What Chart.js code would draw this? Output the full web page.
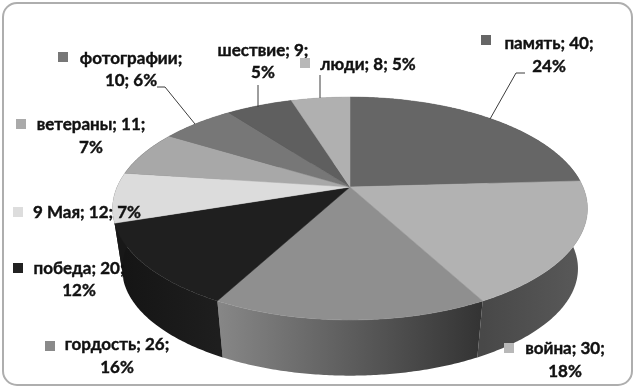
<!DOCTYPE html>
<html>
<head>
<meta charset="utf-8">
<script src="https://cdn.jsdelivr.net/npm/chart.js@4"></script>
<style>
    html, body { margin: 0; padding: 0; background: #fff; }
    #frame { position: absolute; left: 2px; top: 2px; width: 627px; height: 380px; border: 2px solid #aeaeae; border-radius: 15px; }
    #chartCanvas { position: absolute; left: 0; top: 0; }
</style>
</head>
<body>
<div id="frame"></div>
<canvas id="chartCanvas" width="633" height="387"></canvas>
<script>
const categories = ["память", "война", "гордость", "победа", "9 Мая", "ветераны", "фотографии", "шествие", "люди"];
const values = [40, 30, 26, 20, 12, 11, 10, 9, 8];
const percents = [24, 18, 16, 12, 7, 7, 6, 5, 5];

const topColors = ["#666666", "#b2b2b2", "#8f8f8f", "#1f1f1f", "#dcdcdc", "#a8a8a8", "#777777", "#5f5f5f", "#b0b0b0"];
const sideColors = [
    ["#444444", "#444444"], ["#484848", "#5a5a5a"], ["#878787", "#333333"], ["#141414", "#1e1e1e"], ["#181818", "#181818"],
    ["#181818", "#181818"], ["#555555", "#555555"], ["#444444", "#444444"], ["#777777", "#777777"]
];
const markerColors = ["#666666", "#b8b8b8", "#8a8a8a", "#222222", "#dddddd", "#aaaaaa", "#777777", null, "#b8b8b8"];

// label layout: marker x,y then one entry per text line (center x, center y, text kind)
const labelLayout = [
    { marker: [481, 35], lines: [[549, 44, 0], [549, 67, 1]] },
    { marker: [504, 343], lines: [[565, 349, 0], [565, 372, 1]] },
    { marker: [45, 341], lines: [[117, 345, 0], [117, 368, 1]] },
    { marker: [13, 263], lines: [[79, 269, 0], [79, 291, 1]] },
    { marker: [13, 207], lines: [[87, 213, 2]] },
    { marker: [16, 119], lines: [[91, 125, 0], [91, 148, 1]] },
    { marker: [58, 52], lines: [[131, 59, 4], [131, 81, 3]] },
    { marker: null, lines: [[263, 51, 0], [263, 73, 1]] },
    { marker: [300, 58], lines: [[368, 65, 2]] }
];

const leaderLines = [
    [[490, 119], [516, 73], [525, 73]],
    [[320, 98], [320, 75]],
    [[258, 107], [258, 85]],
    [[195, 124], [165, 87], [157, 87]]
];

// perspective of the disc: apex position, radii and tilt
const apexX = 350, apexY = 187, radiusX = 233, radiusY = 107.3, tilt = 0.193;
const depth = 61, bottomScale = 0.96;

function project(angle, bottom) {
    const u = Math.cos(angle), v = Math.sin(angle);
    const w = 1 - tilt * v;
    const f = bottom ? bottomScale : 1;
    return {
        x: apexX + radiusX * f * u / w,
        y: apexY + (bottom ? depth : 0) + radiusY * f * v / w
    };
}

function rimPoints(start, end, bottom) {
    const steps = Math.max(2, Math.ceil((end - start) / 0.01));
    const pts = [];
    for (let i = 0; i <= steps; i++) {
        pts.push(project(start + (end - start) * i / steps, bottom));
    }
    return pts;
}

const pie3d = {
    id: "pie3d",
    // arcs come from the doughnut controller, they are only projected here
    beforeDatasetsDraw(chart) {
        const ctx = chart.ctx;
        const arcs = chart.getDatasetMeta(0).data;

        arcs.forEach((arc, i) => {
            const upper = rimPoints(arc.startAngle, arc.endAngle, false);
            const lower = rimPoints(arc.startAngle, arc.endAngle, true);
            const xs = upper.map(p => p.x);
            const left = Math.min(...xs), right = Math.max(...xs);
            const grad = ctx.createLinearGradient(left, 0, Math.max(right, left + 1), 0);
            grad.addColorStop(0, sideColors[i][0]);
            grad.addColorStop(1, sideColors[i][1]);
            ctx.beginPath();
            upper.forEach((p, k) => k ? ctx.lineTo(p.x, p.y) : ctx.moveTo(p.x, p.y));
            lower.reverse().forEach(p => ctx.lineTo(p.x, p.y));
            ctx.closePath();
            ctx.fillStyle = grad;
            ctx.fill();
        });

        arcs.forEach((arc, i) => {
            ctx.beginPath();
            ctx.moveTo(apexX, apexY);
            rimPoints(arc.startAngle, arc.endAngle, false).forEach(p => ctx.lineTo(p.x, p.y));
            ctx.closePath();
            ctx.fillStyle = topColors[i];
            ctx.strokeStyle = topColors[i];
            ctx.lineWidth = 0.5;
            ctx.fill();
            ctx.stroke();
        });
        return false;
    },
    afterDraw(chart) {
        const ctx = chart.ctx;
        ctx.save();

        ctx.strokeStyle = "#3c3c3c";
        ctx.lineWidth = 1;
        leaderLines.forEach(line => {
            ctx.beginPath();
            line.forEach((p, k) => k ? ctx.lineTo(p[0], p[1]) : ctx.moveTo(p[0], p[1]));
            ctx.stroke();
        });

        ctx.font = "bold 17px Lato, 'Open Sans', sans-serif";
        ctx.textAlign = "center";
        ctx.textBaseline = "middle";
        labelLayout.forEach((item, i) => {
            if (item.marker) {
                ctx.fillStyle = markerColors[i];
                ctx.fillRect(item.marker[0], item.marker[1], 10, 10);
            }
            const texts = [
                categories[i] + "; " + values[i] + ";",
                percents[i] + "%",
                categories[i] + "; " + values[i] + "; " + percents[i] + "%",
                values[i] + "; " + percents[i] + "%",
                categories[i] + ";"
            ];
            ctx.fillStyle = "#111111";
            ctx.strokeStyle = "#111111";
            ctx.lineWidth = 0.4;
            item.lines.forEach(line => {
                ctx.fillText(texts[line[2]], line[0], line[1]);
                ctx.strokeText(texts[line[2]], line[0], line[1]);
            });
        });
        ctx.restore();
    }
};

const chartInstance = new Chart(document.getElementById("chartCanvas").getContext("2d"), {
    type: "pie",
    data: {
        labels: categories,
        datasets: [{ data: values, backgroundColor: topColors, borderWidth: 0 }]
    },
    options: {
        responsive: false,
        animation: false,
        plugins: { legend: { display: false }, tooltip: { enabled: false } }
    },
    plugins: [pie3d]
});
</script>
</body>
</html>
